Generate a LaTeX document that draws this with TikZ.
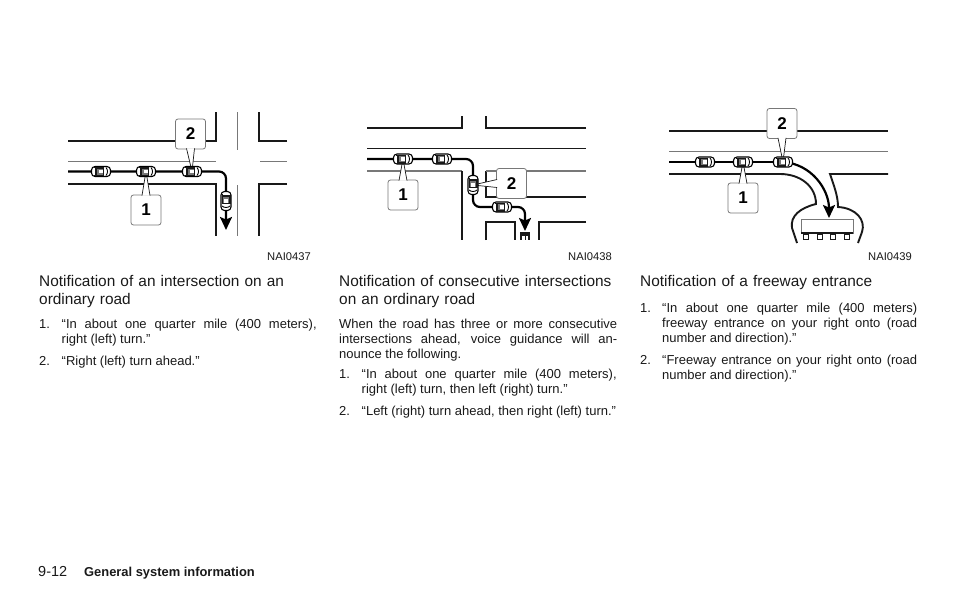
\documentclass[tikz,border=0pt]{standalone}
\usepackage{fontspec}
\setmainfont{Liberation Sans}
\usepackage{xcolor}
\usepackage{tikz}
\usetikzlibrary{arrows,arrows.meta,calc}
\definecolor{nvink}{RGB}{25,25,25}
\definecolor{nvgrey}{RGB}{120,120,120}
\tikzstyle{road} = [line width=1.9pt, color=nvink]
\tikzstyle{greyroad} = [line width=1.9pt, color=nvgrey]
\tikzstyle{lane} = [line width=0.8pt, color=nvgrey]
\tikzstyle{route} = [line width=2.2pt, color=black, rounded corners=7pt]
\tikzstyle{routearrow} = [route, -{Stealth[length=13pt,width=12pt,inset=2.5pt]}]
\tikzstyle{callout} = [rectangle, rounded corners=2.5pt, minimum width=30pt, minimum height=30pt, inner sep=0pt, draw=nvgrey, fill=white, line width=0.8pt, font=\fontsize{17}{17}\selectfont\bfseries]
\tikzstyle{pointer} = [draw=nvink, fill=white, line width=0.7pt]
\tikzstyle{heading} = [anchor=north west, inner sep=0pt, text width=280pt, align=left, font=\fontsize{15.4}{18}\selectfont, text=nvink]
\tikzstyle{bodytext} = [anchor=north west, inner sep=0pt, text width=278pt, align=justify, font=\fontsize{13}{15}\selectfont, text=nvink, execute at begin node={\strut}]
\tikzstyle{itemtext} = [bodytext, text width=255pt]
\tikzstyle{itemnum} = [bodytext, text width=20pt, align=left]
\tikzstyle{figcode} = [anchor=east, inner sep=0pt, font=\fontsize{11.2}{12}\selectfont, text=nvink]
\tikzset{
  car/.pic={
    \draw[fill=white, line width=1.1pt, rounded corners=3.5pt] (-9.5,-5) rectangle (9.5,5);
    \fill[nvink] (-7.5,-4.5) rectangle (3,4.5);
    \fill[nvgrey] (-4,-3) rectangle (2,3);
    \fill[white] (-2,-1.8) rectangle (2,1.8);
    \fill[white] (-7,-3.5) rectangle (-5.8,3.5);
    \draw[line width=0.9pt] (5,-4) .. controls (7,-2) and (7,2) .. (5,4);
  }
}
\begin{document}
\begin{tikzpicture}[x=1pt,y=-1pt]
\useasboundingbox (0,0) rectangle (954,608);

% Intersection
\draw[road] (68,141) -- (216,141) -- (216,112);
\draw[road] (287,141) -- (259,141) -- (259,112);
\draw[road] (68,184) -- (216,184) -- (216,236);
\draw[road] (287,184) -- (259,184) -- (259,236);
\draw[lane] (68,161) -- (216,161);
\draw[lane] (260,161) -- (287,161);
\draw[lane] (237,112) -- (237,150);
\draw[lane] (237,185) -- (237,236);

\coordinate (astart) at (68,171.5);
\coordinate (acar1) at (101,171.5);
\coordinate (acar2) at (146,171.5);
\coordinate (acar3) at (192,171.5);
\coordinate (acar4) at (226,201);
\coordinate (aturn) at (226,171.5);
\coordinate (aend) at (226,230);
\draw[routearrow] (astart) -- (aturn) -- (aend);

\node[callout] (acall1) at (146,210) {1};
\node[callout] (acall2) at (190.5,134) {2};
\draw[pointer] ($(acall1.north)+(-4,1)$) -- (acar2) -- ($(acall1.north)+(4,1)$);
\draw[pointer] ($(acall2.south)+(-4,-1)$) -- (acar3) -- ($(acall2.south)+(4,-1)$);
\pic at (acar1) {car};
\pic at (acar2) {car};
\pic at (acar3) {car};
\pic[rotate=-90] at (acar4) {car};
\node[figcode] (acode) at (311,257) {NAI0437};

% Consecutive intersections
\draw[road] (367,128) -- (462,128) -- (462,116);
\draw[road] (586,128) -- (486,128) -- (486,116);
\draw[line width=1pt, color=nvink] (367,148) -- (586,148);
\draw[greyroad] (367,171) -- (462,171);
\draw[line width=1.2pt, color=nvink] (462,171) -- (462,240);
\draw[road] (486,171) -- (486,197) -- (586,197);
\draw[greyroad] (486,171) -- (586,171);
\draw[road] (486,240) -- (486,222) -- (515,222) -- (515,240);
\draw[road] (586,222) -- (539,222) -- (539,240);

\coordinate (bstart) at (367,159);
\coordinate (bcar1) at (403,159);
\coordinate (bcar2) at (442,159);
\coordinate (bturn1) at (473,159);
\coordinate (bcar3) at (473,185);
\coordinate (bturn2) at (473,207);
\coordinate (bcar4) at (502,207);
\coordinate (bturn3) at (525,207);
\coordinate (bend) at (525,231);
\draw[routearrow] (bstart) -- (bturn1) -- (bturn2) -- (bturn3) -- (bend);
\fill[nvink] (520,232) rectangle (530,240);
\fill[white] (522,235.5) rectangle (524.5,240);
\fill[white] (525.5,235.5) rectangle (528,240);

\node[callout] (bcall1) at (403,195) {1};
\node[callout] (bcall2) at (511.5,183.5) {2};
\draw[pointer] ($(bcall1.north)+(-4,1)$) -- (bcar1) -- ($(bcall1.north)+(4,1)$);
\draw[pointer] ($(bcall2.west)+(1,-4)$) -- (bcar3) -- ($(bcall2.west)+(1,4)$);
\pic at (bcar1) {car};
\pic at (bcar2) {car};
\pic[rotate=-90] at (bcar3) {car};
\pic at (bcar4) {car};
\node[figcode] (bcode) at (612,257) {NAI0438};

% Freeway entrance
\draw[road] (669,131) -- (888,131);
\draw[lane] (669,151) -- (888,151);
\draw[road] (669,174) -- (780,174) .. controls (800,174) and (816,186) .. (816,204) .. controls (800,208) and (790,216) .. (792,228) -- (797,243);
\draw[road] (888,174) -- (830,174) .. controls (834,186) and (838,196) .. (838,207) .. controls (856,208) and (866,220) .. (862,232) -- (858,243);

\coordinate (cstart) at (669,162);
\coordinate (ccar1) at (705,162);
\coordinate (ccar2) at (743,162);
\coordinate (ccar3) at (783,162);
\coordinate (cend) at (829,218);
\draw[route] (cstart) -- (ccar3);
\draw[routearrow, rounded corners=0pt] (ccar3) .. controls (812,164) and (829,190) .. (cend);

\draw[fill=white, draw=nvgrey, line width=0.8pt] (801,219) rectangle (853,233);
\draw[road, line width=1.2pt] (801,233) -- (853,233);
\foreach \signx in {806,820,833,847}
  \draw[line width=0.8pt, color=nvink] (\signx-2.5,234) rectangle (\signx+2.5,239);

\node[callout] (ccall1) at (743,198) {1};
\node[callout] (ccall2) at (782,123.5) {2};
\draw[pointer] ($(ccall1.north)+(-4,1)$) -- (ccar2) -- ($(ccall1.north)+(4,1)$);
\draw[pointer] ($(ccall2.south)+(-4,-1)$) -- (ccar3) -- ($(ccall2.south)+(4,-1)$);
\pic at (ccar1) {car};
\pic at (ccar2) {car};
\pic at (ccar3) {car};
\node[figcode] (ccode) at (912,257) {NAI0439};

% Column texts
\node[heading] (ahead) at (39,275.5) {Notification of an intersection on an\\ordinary road};
\node[itemnum] (anum1) at (39,317.7) {1.};
\node[itemtext] (aitem1) at (61.5,317.7) {“In about one quarter mile (400 meters),\linebreak right (left) turn.”};
\node[itemnum] (anum2) at (39,354.7) {2.};
\node[itemtext] (aitem2) at (61.5,354.7) {“Right (left) turn ahead.”};

\node[heading] (bhead) at (339,275.5) {Notification of consecutive intersections\\on an ordinary road};
\node[bodytext] (bbody) at (339,317.7) {When the road has three or more consecutive\linebreak intersections ahead, voice guidance will an-\linebreak nounce the following.};
\node[itemnum] (bnum1) at (339,367.7) {1.};
\node[itemtext] (bitem1) at (361.5,367.7) {“In about one quarter mile (400 meters),\linebreak right (left) turn, then left (right) turn.”};
\node[itemnum] (bnum2) at (339,404.7) {2.};
\node[itemtext] (bitem2) at (361.5,404.7) {“Left (right) turn ahead, then right (left) turn.”};

\node[heading] (chead) at (640,275.5) {Notification of a freeway entrance};
\node[itemnum] (cnum1) at (640,301.7) {1.};
\node[itemtext] (citem1) at (662,301.7) {“In about one quarter mile (400 meters)\linebreak freeway entrance on your right onto (road\linebreak number and direction).”};
\node[itemnum] (cnum2) at (640,354.2) {2.};
\node[itemtext] (citem2) at (662,354.2) {“Freeway entrance on your right onto (road\linebreak number and direction).”};

% Footer
\node[anchor=base west, inner sep=0pt, font=\fontsize{14.5}{16}\selectfont, text=nvink] (pagenum) at (38,576.5) {9-12};
\node[anchor=base west, inner sep=0pt, font=\fontsize{12.9}{14}\selectfont\bfseries, text=nvink] (pagetitle) at (84,576.5) {General system information};
\end{tikzpicture}
\end{document}
